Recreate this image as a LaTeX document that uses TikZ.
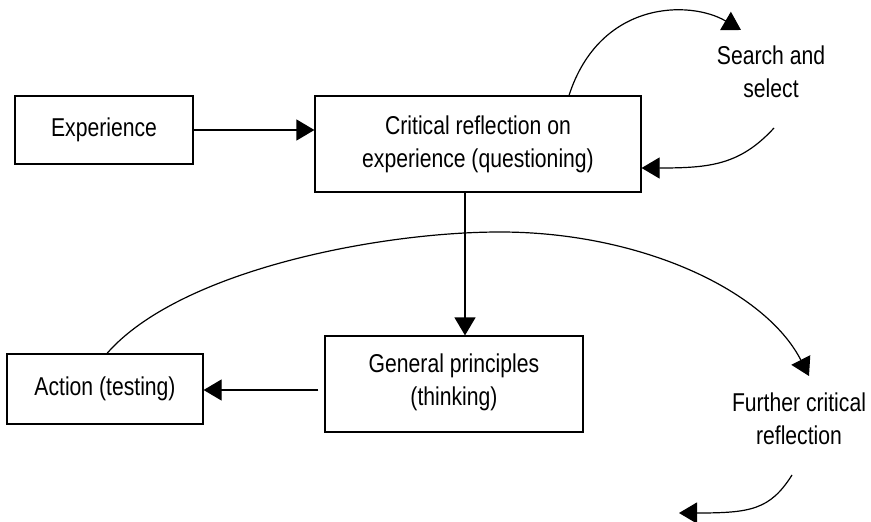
\documentclass[tikz,border=0pt]{standalone}
\usepackage{fontspec}
\setmainfont[FakeStretch=0.82]{Liberation Sans}
\usetikzlibrary{arrows.meta}
\newcommand{\dfont}{\fontsize{25.8}{33}\selectfont}
\begin{document}
\begin{tikzpicture}[x=1pt,y=-1pt,
  box/.style={draw, line width=1.2pt, align=center, font=\dfont, inner sep=0pt},
  lbl/.style={align=center, font=\dfont, inner sep=0pt},
  conn/.style={line width=1.2pt, -{Triangle[length=18pt,width=21pt]}}]
\useasboundingbox (0,0) rectangle (871,522);
% boxes
\node[box, minimum width=178pt, minimum height=68pt] (exp) at (104,130) {Experience};
\node[box, minimum width=326pt, minimum height=96pt] (crit) at (478,144) {Critical reflection on\\experience (questioning)};
\node[box, minimum width=196pt, minimum height=70pt] (act) at (105,389) {Action (testing)};
\node[box, minimum width=258pt, minimum height=96pt, text depth=9pt] (gen) at (454,384) {General principles\\(thinking)};
% free labels
\node[lbl] (search) at (771,72) {Search and\\select};
\node[lbl] (further) at (799,419) {Further critical\\reflection};
% free ends
\coordinate (sOut) at (741,30);
\coordinate (sIn) at (774,128);
\coordinate (fOut) at (809,376);
\coordinate (fIn) at (792,475);
\coordinate (fEnd) at (679,513);
% connectors
\draw[conn] (exp.east) -- (exp.east -| crit.west);
\draw[conn] ([xshift=-13pt]crit.south) -- ([xshift=-13pt]crit.south |- gen.north);
\draw[conn] ([xshift=-6pt,yshift=-6pt]gen.west) -- ([yshift=-6pt]gen.west -| act.east);
\draw[conn] ([xshift=91pt]crit.north) .. controls (600,0) and (690,0) .. (sOut);
\draw[conn] (sIn) .. controls (740,165) and (710,168) .. ([yshift=-24pt]crit.east);
\draw[conn] ([xshift=2pt]act.north) .. controls (180,270) and (380,232) .. (500,232)
  .. controls (640,232) and (765,290) .. (fOut);
\draw[conn] (fIn) .. controls (770,510) and (750,513) .. (fEnd);
\end{tikzpicture}
\end{document}
